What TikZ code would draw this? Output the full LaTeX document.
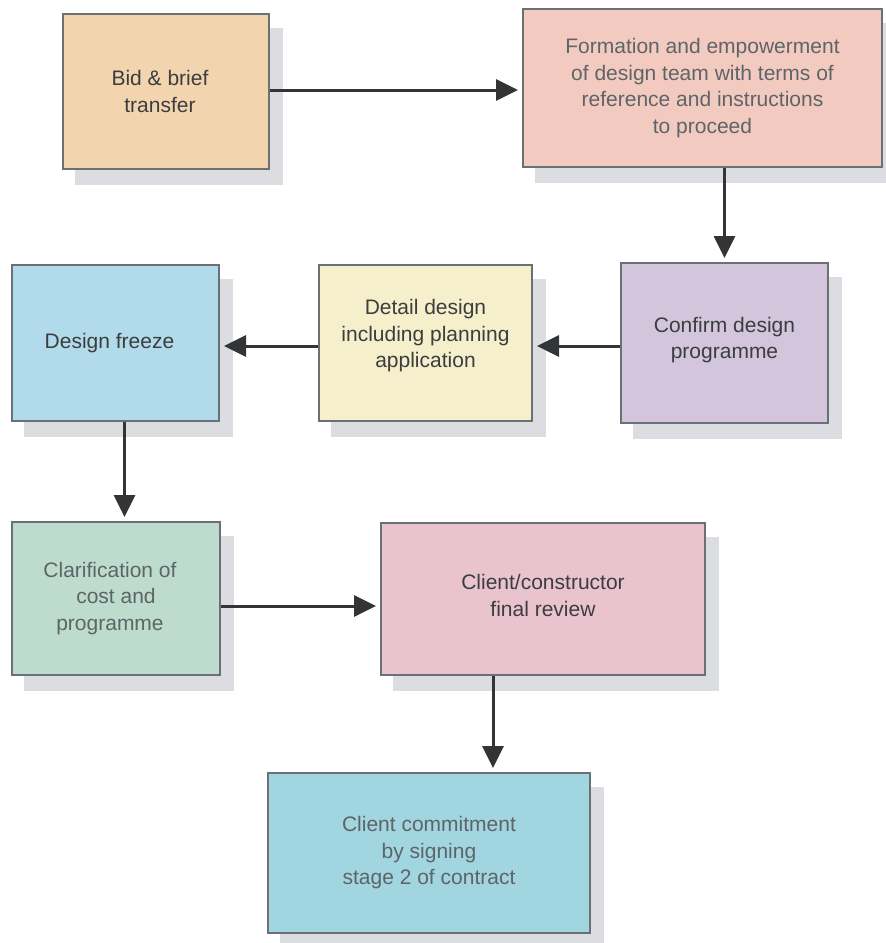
\documentclass[tikz,border=0pt]{standalone}
\usepackage{fontspec}
\setmainfont{Liberation Sans}
\usetikzlibrary{arrows.meta,backgrounds}

\definecolor{bordergrey}{HTML}{6A7075}
\definecolor{shadowgrey}{HTML}{DCDDE1}
\definecolor{arrowdark}{HTML}{333436}
\definecolor{textdark}{HTML}{3C3D3F}
\definecolor{textgrey}{HTML}{5E6468}
\definecolor{cbid}{HTML}{F2D5AE}
\definecolor{cform}{HTML}{F3CABF}
\definecolor{cconf}{HTML}{D3C5DB}
\definecolor{cdet}{HTML}{F5EFCB}
\definecolor{cfrz}{HTML}{B1DAEB}
\definecolor{cclar}{HTML}{BEDCCD}
\definecolor{crev}{HTML}{E9C4CE}
\definecolor{ccom}{HTML}{A1D5E0}

\tikzset{
  box/.style={draw=bordergrey, line width=2pt, rectangle, inner sep=0pt,
    align=center, font=\fontsize{21}{26.5}\selectfont, text=textdark},
  greytext/.style={text=textgrey},
  flow/.style={draw=arrowdark, line width=3pt,
    -{Triangle[length=22pt,width=21pt]}, shorten >=4pt},
}

% draws the offset grey shadow of a box
\newcommand{\boxshadow}[1]{%
  \fill[shadowgrey] ([shift={(13,15)}]#1.south west) rectangle ([shift={(13,15)}]#1.north east);}
% pushes a centred line slightly to the left
\newcommand{\lft}{\hspace*{12pt}}

\begin{document}
\begin{tikzpicture}[x=1pt,y=-1pt]
\useasboundingbox (0,0) rectangle (886,943);

\node[box, fill=cbid, minimum width=206pt, minimum height=155pt] (bid) at (166,91.5)
  {Bid \& brief\lft\\transfer\lft};
\node[box, greytext, fill=cform, minimum width=359pt, minimum height=158pt] (form) at (702.5,88)
  {Formation and empowerment\\of design team with terms of\\reference and instructions\\to proceed};
\node[box, fill=cconf, minimum width=207pt, minimum height=160pt] (conf) at (724.5,343)
  {Confirm design\\programme\\[-16.5pt]~};
\node[box, fill=cdet, minimum width=213pt, minimum height=156pt] (det) at (425.5,343)
  {Detail design\\including planning\\application\\[-8pt]~};
\node[box, fill=cfrz, minimum width=207pt, minimum height=156pt] (frz) at (115.5,343)
  {Design freeze\lft};
\node[box, greytext, fill=cclar, minimum width=208pt, minimum height=153pt] (clar) at (116,598.5)
  {Clarification of\lft\\cost and\lft\\programme\lft};
\node[box, fill=crev, minimum width=324pt, minimum height=152pt] (rev) at (543,599)
  {Client/constructor\\final review\\[-19.5pt]~};
\node[box, greytext, fill=ccom, minimum width=322pt, minimum height=160pt] (com) at (429,853)
  {Client commitment\\by signing\\stage 2 of contract};

\begin{scope}[on background layer]
  \foreach \n in {bid,form,conf,det,frz,clar,rev,com} {\boxshadow{\n}}
\end{scope}

\draw[flow] ([yshift=1.5pt]bid.east) -- ([yshift=1.5pt]bid.east -| form.west);
\draw[flow] (conf.north |- form.south) -- (conf.north);
\draw[flow] ([yshift=-3pt]conf.west) -- ([yshift=-3pt]det.east);
\draw[flow] ([yshift=-3pt]det.west) -- ([yshift=-3pt]frz.east);
\draw[flow] ([xshift=9pt]frz.south) -- ([xshift=9pt]frz.south |- clar.north);
\draw[flow] ([yshift=-7.5pt]clar.east) -- ([yshift=-7.5pt]clar.east -| rev.west);
\draw[flow] ([xshift=-50pt]rev.south) -- ([xshift=-50pt]rev.south |- com.north);
\end{tikzpicture}
\end{document}
